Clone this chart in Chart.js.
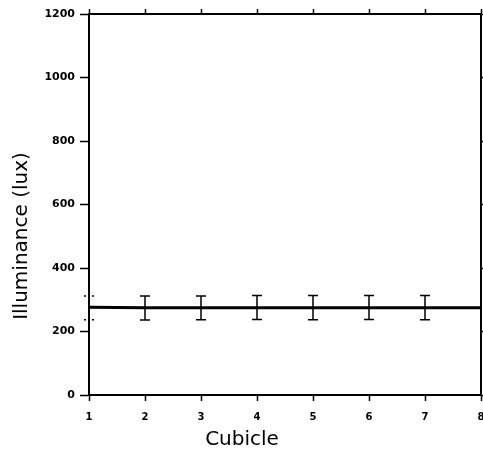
<!DOCTYPE html>
<html lang="en">
<head>
<meta charset="utf-8">
<title>Illuminance per cubicle</title>
<script src="https://cdn.jsdelivr.net/npm/chart.js@4.4.0/dist/chart.umd.min.js"></script>
<style>
	html, body { margin: 0; padding: 0; background: #fff; }
</style>
</head>
<body>
<canvas id="chart" width="483" height="453"></canvas>
<script>
// data
const cubicles = [1, 2, 3, 4, 5, 6, 7, 8];
const meanLux = [276, 275, 275, 275, 275, 275, 275, 275];
const errCubicles = [1, 2, 3, 4, 5, 6, 7];
const errHigh = [312, 312, 312, 313, 313, 313, 313];
const errLow = [237, 236, 237, 238, 237, 238, 237];
const yTicks = [0, 200, 400, 600, 800, 1000, 1200];

const tickFont = { family: 'DejaVu Sans', size: 11, weight: 'bold' };
const plain = v => String(v);
const noSidePad = s => { s.paddingLeft = 0; s.paddingRight = 0; s.paddingTop = 0; s.paddingBottom = 0; };

// error bars drawn from the x / y scales
const errorBars = {
	id: 'errorBars',
	afterDatasetsDraw(chart) {
		const ctx = chart.ctx, xs = chart.scales.x, ys = chart.scales.y;
		ctx.save();
		ctx.strokeStyle = '#000';
		ctx.lineWidth = 1.5;
		errCubicles.forEach(function (c, i) {
			const px = xs.getPixelForValue(c);
			const top = ys.getPixelForValue(errHigh[i]);
			const bot = ys.getPixelForValue(errLow[i]);
			ctx.setLineDash(i === 0 ? [2, 2] : []);
			ctx.beginPath();
			ctx.moveTo(px, top); ctx.lineTo(px, bot);
			ctx.moveTo(px - 5, top); ctx.lineTo(px + 5, top);
			ctx.moveTo(px - 5, bot); ctx.lineTo(px + 5, bot);
			ctx.stroke();
		});
		ctx.restore();
	}
};

// axis titles, placed like the scanned figure
const axisTitles = {
	id: 'axisTitles',
	afterDraw(chart) {
		const ctx = chart.ctx;
		ctx.save();
		ctx.fillStyle = '#000';
		ctx.font = '20px "DejaVu Sans"';
		ctx.textAlign = 'center';
		ctx.textBaseline = 'middle';
		ctx.fillText('Cubicle', 242, 440);
		ctx.translate(22, 236);
		ctx.rotate(-Math.PI / 2);
		ctx.fillText('Illuminance (lux)', 0, 0);
		ctx.restore();
	}
};

new Chart(document.getElementById('chart'), {
	type: 'scatter',
	data: {
		datasets: [{
			label: 'Mean illuminance',
			data: cubicles.map((c, i) => ({ x: c, y: meanLux[i] })),
			showLine: true,
			borderColor: '#000',
			backgroundColor: '#000',
			borderWidth: 3,
			pointRadius: 0,
		}]
	},
	options: {
		responsive: false,
		animation: false,
		layout: { padding: 0 },
		plugins: { legend: { display: false }, tooltip: { enabled: false } },
		scales: {
			x: {
				type: 'linear', position: 'bottom', min: 1, max: 8,
				ticks: { stepSize: 1, font: { family: 'DejaVu Sans', size: 10, weight: 'bold' }, color: '#000', padding: 10, maxRotation: 0, callback: plain },
				grid: { drawOnChartArea: false, tickLength: 6, color: '#000', tickWidth: 1.5 },
				border: { color: '#000', width: 2 },
				afterFit: s => { s.height = 58; noSidePad(s); }
			},
			x2: {
				type: 'linear', position: 'top', min: 1, max: 8,
				ticks: { stepSize: 1, display: false },
				grid: { drawOnChartArea: false, tickLength: 5, color: '#000', tickWidth: 1.5 },
				border: { color: '#000', width: 2 },
				afterFit: s => { s.height = 14; noSidePad(s); }
			},
			y: {
				type: 'linear', position: 'left', min: 0, max: 1200,
				afterBuildTicks: s => { s.ticks = yTicks.map(v => ({ value: v })); },
				ticks: { font: tickFont, color: '#000', padding: 5, callback: plain },
				grid: { drawOnChartArea: false, tickLength: 9, color: '#000', tickWidth: 1.5 },
				border: { color: '#000', width: 2 },
				afterFit: s => { s.width = 89; noSidePad(s); }
			},
			y2: {
				type: 'linear', position: 'right', min: 0, max: 1200,
				ticks: { stepSize: 200, display: false },
				grid: { drawOnChartArea: false, tickLength: 2, color: '#000', tickWidth: 1.5 },
				border: { color: '#000', width: 2 },
				afterFit: s => { s.width = 2; noSidePad(s); }
			}
		}
	},
	plugins: [errorBars, axisTitles]
});
</script>
</body>
</html>
